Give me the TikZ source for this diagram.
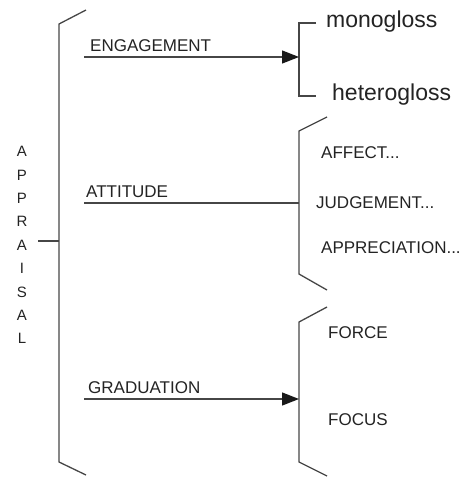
\documentclass[tikz,border=0pt]{standalone}
\usepackage{fontspec}
\setmainfont{Liberation Sans}
\usetikzlibrary{arrows.meta}
\definecolor{ln}{RGB}{70,70,70}
\definecolor{tx}{RGB}{35,35,35}
\begin{document}
\begin{tikzpicture}[x=1pt,y=-1pt,
  brk/.style={draw=ln,line width=1.3pt},
  conn/.style={draw=ln,line width=1.3pt},
  arr/.style={conn,-{Triangle[length=17pt,width=13pt,color=black!90]}},
  lab/.style={anchor=base west,inner sep=0pt,text=tx,font=\fontsize{17}{20}\selectfont},
  big/.style={anchor=base west,inner sep=0pt,text=tx,font=\fontsize{23}{26}\selectfont},
  sub/.style={anchor=base west,inner sep=0pt,text=tx,font=\fontsize{17}{20}\selectfont},
  letter/.style={anchor=center,inner sep=0pt,text=tx,font=\fontsize{15}{17}\selectfont}]
\useasboundingbox (0,0) rectangle (469,477);
% main bracket
\draw[brk] (86,10) -- (59,24) -- (59,462) -- (86,475);
\coordinate (mainmid) at (59,241);
\coordinate (stub) at (38,241);
\draw[conn] (stub) -- (mainmid);
% APPRAISAL letters
\foreach \c [count=\i from 0] in {A,P,P,R,A,I,S,A,L}
  \node[letter] (ap\i) at (22,{151.5+23.4*\i}) {\c};
% level-1 labels
\node[lab] (eng) at (90,51.5) {ENGAGEMENT};
\node[lab] (att) at (86,197) {ATTITUDE};
\node[lab] (grad) at (88,393) {GRADUATION};
% engagement system
\coordinate (e0) at (84,57);
\coordinate (e1) at (299,57);
\draw[brk] (316,23) -- (299,23) -- (299,96) -- (316,96);
\draw[arr] (e0) -- (e1);
\node[big] (mono) at (326,27.5) {monogloss};
\node[big] (hetero) at (332,100.5) {heterogloss};
% attitude system
\coordinate (a0) at (84,203);
\coordinate (a1) at (299,203);
\draw[brk] (327,117) -- (299,131) -- (299,274) -- (327,290);
\draw[conn] (a0) -- (a1);
\node[sub] (affect) at (321,158) {AFFECT...};
\node[sub] (judge) at (316,208.5) {JUDGEMENT...};
\node[sub] (apprec) at (321,253) {APPRECIATION...};
% graduation system
\coordinate (g0) at (84,399);
\coordinate (g1) at (299,399);
\draw[brk] (327,307) -- (299,322) -- (299,462) -- (327,476);
\draw[arr] (g0) -- (g1);
\node[sub] (force) at (328,338) {FORCE};
\node[sub] (focus) at (328,425) {FOCUS};
\end{tikzpicture}
\end{document}
